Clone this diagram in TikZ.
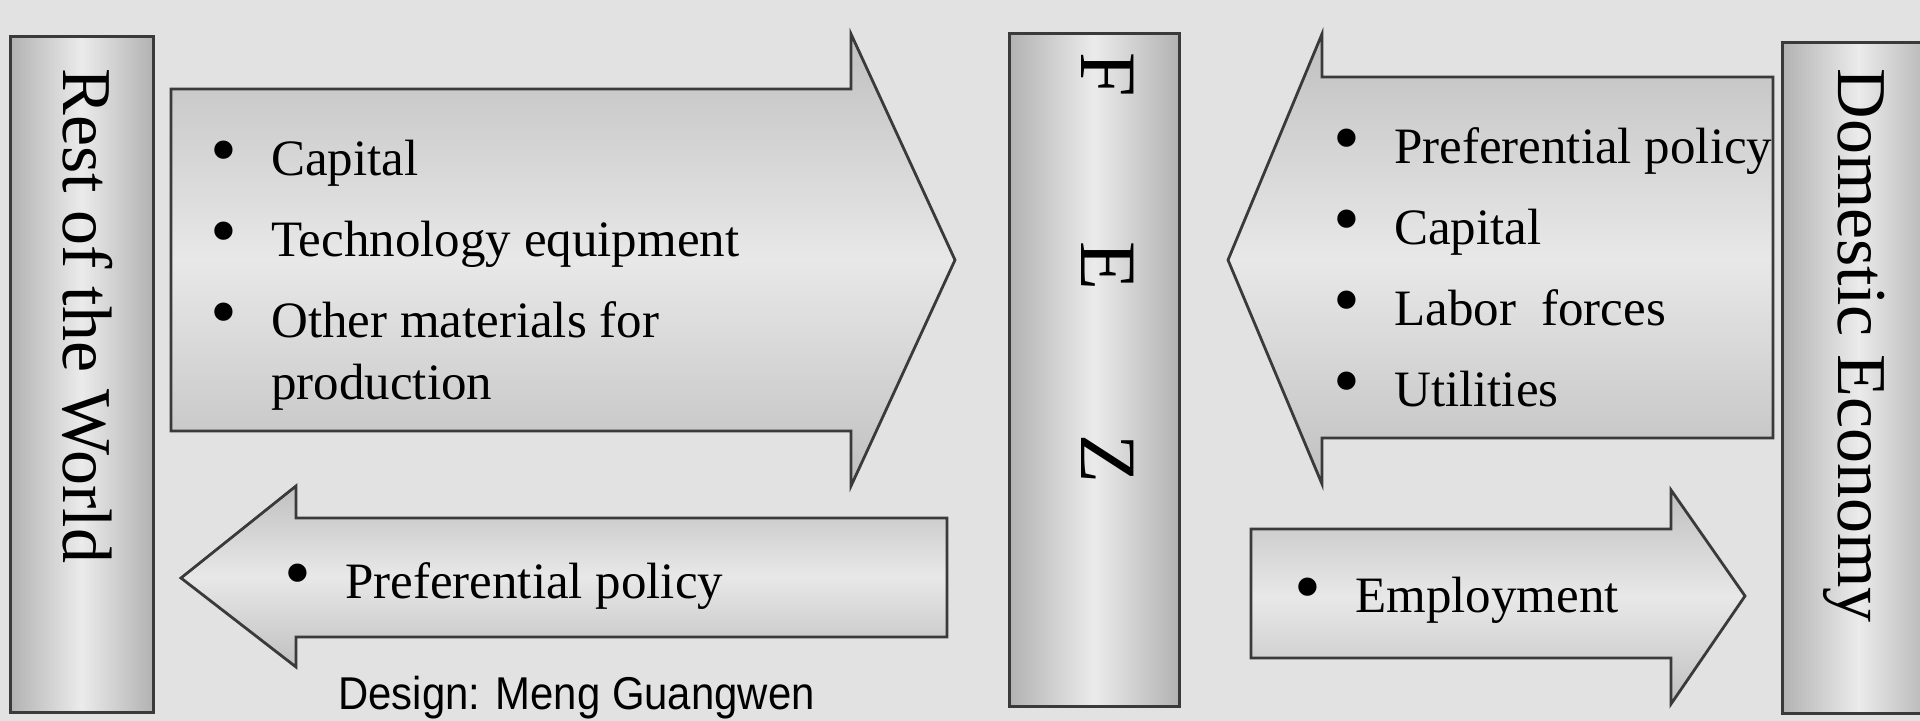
\documentclass[tikz,border=0pt]{standalone}
\usepackage{fontspec}
\usepackage{graphicx}
\setmainfont{Liberation Serif}
\newfontfamily\designfont{Liberation Sans}
\usetikzlibrary{positioning}

\definecolor{bggray}{HTML}{E2E2E2}
\definecolor{boxedge}{HTML}{B2B2B2}
\definecolor{boxmid}{HTML}{EBEBEB}
\definecolor{flowedge}{HTML}{C0C0C0}
\definecolor{flowmid}{HTML}{E8E8E8}
\definecolor{linegray}{HTML}{3A3A3A}

\newcommand{\bigdot}{\makebox[8.9pt][c]{\scalebox{1.5}{\textbullet}}}
\newcommand{\bulletlist}[1]{\begin{tabular}[t]{@{}l@{\hspace{19pt}}l@{}}#1\end{tabular}}

\begin{document}
\begin{tikzpicture}[
    x=0.5pt, y=0.5pt,
    sidebox/.style={draw=linegray, line width=1.5pt, left color=boxedge, right color=boxedge, middle color=boxmid, inner sep=0pt},
    flow/.style={draw=linegray, line width=1.4pt, line join=miter, top color=flowedge, bottom color=flowedge, middle color=flowmid},
    sidelabel/.style={rotate=-90, inner sep=0pt, font=\fontsize{35}{40}\selectfont, text height=0.66em, text depth=0pt},
    itemtext/.style={anchor=base west, inner sep=0pt, font=\fontsize{25.5}{31}\selectfont}
]
    \fill[bggray] (0,0) rectangle (1920,721);
    \useasboundingbox (0,0) rectangle (1920,721);

    % side boxes
    \node[sidebox, minimum width=71.5pt, minimum height=338pt] (rest) at (81.5,346) {};
    \node[sidebox, minimum width=85pt, minimum height=336.5pt] (fez) at (1094,350.5) {};
    \node[sidebox, minimum width=76.5pt, minimum height=335.5pt] (domestic) at (1858.5,342.5) {};
    \node[sidelabel] (restlabel) at (70,405) {Rest of the World};
    \node[sidelabel, font=\fontsize{40}{44}\selectfont] (fezlabel) at (1088,453) {F\hspace{72pt}E\hspace{72pt}Z};
    \node[sidelabel] (domesticlabel) at (1845,375.5) {Domestic Economy};

    % flow arrows
    \draw[flow] (171,632) -- (851,632) -- (851,687) -- (955,461) -- (851,235) -- (851,290) -- (171,290) -- cycle;
    \draw[flow] (947,203) -- (296,203) -- (296,235) -- (181,143) -- (296,54) -- (296,84) -- (947,84) -- cycle;
    \draw[flow] (1773,644) -- (1322,644) -- (1322,687) -- (1228,461) -- (1322,237) -- (1322,283) -- (1773,283) -- cycle;
    \draw[flow] (1251,192) -- (1671,192) -- (1671,231) -- (1745,125) -- (1671,17) -- (1671,63) -- (1251,63) -- cycle;

    % flow contents
    \node[itemtext] (inflow) at (215,545) {\bulletlist{\bigdot & Capital\\[9.5pt]
        \bigdot & Technology equipment\\[9.5pt]
        \bigdot & Other materials for\\
        & production}};
    \node[itemtext] (outflow) at (289,122) {\bulletlist{\bigdot & Preferential policy}};
    \node[itemtext] (domesticin) at (1338,557) {\bulletlist{\bigdot & Preferential policy\\[9.5pt]
        \bigdot & Capital\\[9.5pt]
        \bigdot & Labor\ \ forces\\[9.5pt]
        \bigdot & Utilities}};
    \node[itemtext] (domesticout) at (1299,108) {\bulletlist{\bigdot & Employment}};

    \node[anchor=base west, font=\designfont\fontsize{23}{26}\selectfont, inner sep=0pt] (design) at (338,11) {\scalebox{0.91}[1]{Design: Meng Guangwen}};
\end{tikzpicture}
\end{document}
